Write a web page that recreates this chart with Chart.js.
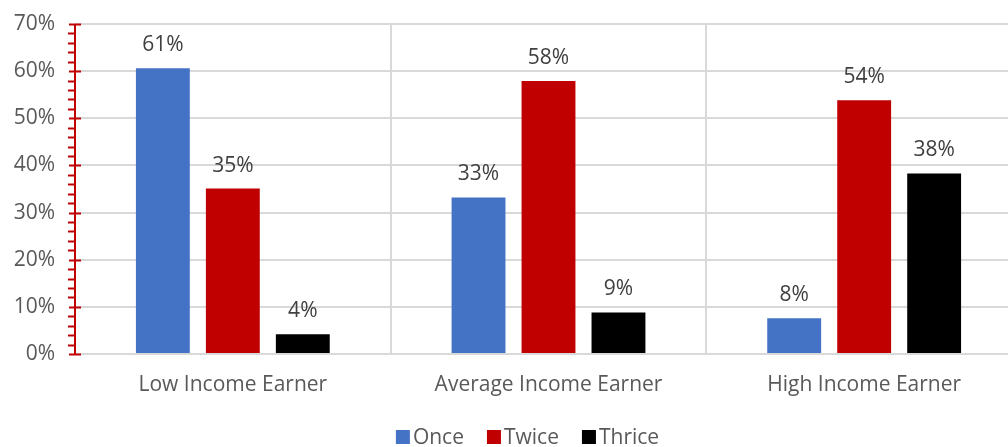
<!DOCTYPE html>
<html>
<head>
<meta charset="utf-8">
<script src="https://cdn.jsdelivr.net/npm/chart.js@4"></script>
<style>
  html, body { margin: 0; padding: 0; background: #fff; overflow: hidden; }
  #wrap { width: 1055px; height: 447px; }
</style>
</head>
<body>
<div id="wrap"><canvas id="myChart"></canvas></div>
<script>
const categories = ['Low Income Earner', 'Average Income Earner', 'High Income Earner'];
const once = [60.6, 33.2, 7.6];
const twice = [35.1, 57.9, 53.8];
const thrice = [4.2, 8.8, 38.3];

const FONT = '"Open Sans", "Liberation Sans", sans-serif';
const FONT_SIZE = 21;

// red value axis with major / minor tick marks
const redAxis = {
    id: 'redAxis',
    afterDraw(chart) {
        const c = chart.ctx;
        const y = chart.scales.y;
        const left = chart.chartArea.left;
        c.save();
        c.strokeStyle = '#c00000';
        c.lineWidth = 2;
        c.beginPath();
        c.moveTo(left, y.getPixelForValue(70));
        c.lineTo(left, y.getPixelForValue(0));
        c.stroke();
        for (let v = 0; v <= 70; v += 2) {
            const py = Math.round(y.getPixelForValue(v)) + 0.5;
            c.beginPath();
            if (v % 10 === 0) {
                c.moveTo(left - 6, py);
                c.lineTo(left + 6, py);
            } else {
                c.moveTo(left - 7, py);
                c.lineTo(left, py);
            }
            c.stroke();
        }
        c.restore();
    }
};

// percent labels above each bar
const barLabels = {
    id: 'barLabels',
    afterDatasetsDraw(chart) {
        const c = chart.ctx;
        c.save();
        c.font = FONT_SIZE + 'px ' + FONT;
        c.fillStyle = '#404040';
        c.textAlign = 'center';
        c.textBaseline = 'middle';
        chart.data.datasets.forEach((ds, i) => {
            chart.getDatasetMeta(i).data.forEach((bar, j) => {
                c.fillText(Math.round(ds.data[j]) + '%', bar.x, bar.y - 23);
            });
        });
        c.restore();
    }
};

// compact legend under the axis labels
const bottomLegend = {
    id: 'bottomLegend',
    afterDraw(chart) {
        const c = chart.ctx;
        const box = 14, gap = 3, itemGap = 23;
        c.save();
        c.font = FONT_SIZE + 'px ' + FONT;
        const items = chart.data.datasets.map(ds => ({
            text: ds.label,
            color: ds.backgroundColor,
            w: box + gap + c.measureText(ds.label).width
        }));
        const total = items.reduce((s, it) => s + it.w, 0) + itemGap * (items.length - 1);
        let x = chart.width / 2 - total / 2;
        const y = chart.height - 10;
        c.textBaseline = 'middle';
        c.textAlign = 'left';
        items.forEach(it => {
            c.fillStyle = it.color;
            c.fillRect(x, y - box / 2, box, box);
            c.fillStyle = '#595959';
            c.fillText(it.text, x + box + gap, y + 1);
            x += it.w + itemGap;
        });
        c.restore();
    }
};

const ctx = document.getElementById('myChart');

const myChart = new Chart(ctx, {
    type: 'bar',
    data: {
        labels: categories,
        datasets: [{
            label: 'Once',
            data: once,
            backgroundColor: '#4472c4'
        }, {
            label: 'Twice',
            data: twice,
            backgroundColor: '#c00000'
        }, {
            label: 'Thrice',
            data: thrice,
            backgroundColor: '#000000'
        }]
    },
    options: {
        responsive: true,
        maintainAspectRatio: false,
        animation: false,
        categoryPercentage: 0.665,
        barPercentage: 0.77,
        layout: {
            padding: { top: 24, left: 0, right: 33, bottom: 0 }
        },
        plugins: {
            tooltip: { enabled: false },
            legend: { display: false }
        },
        scales: {
            x: {
                offset: true,
                grid: { offset: true, color: '#d9d9d9', lineWidth: 2, drawTicks: false },
                border: { display: false },
                ticks: {
                    color: '#595959',
                    font: { family: FONT, size: FONT_SIZE },
                    padding: 18
                },
                afterFit: s => { s.height = 93; }
            },
            y: {
                min: 0,
                max: 70,
                grid: { color: '#d9d9d9', lineWidth: 2, drawTicks: false },
                border: { display: false },
                ticks: {
                    stepSize: 10,
                    color: '#595959',
                    font: { family: FONT, size: FONT_SIZE },
                    padding: 20,
                    callback: v => v + '%'
                },
                afterFit: s => {
                    s.width = 75;
                    s.paddingTop = 0;
                    s.paddingBottom = 0;
                }
            }
        }
    },
    plugins: [redAxis, barLabels, bottomLegend]
});
</script>
</body>
</html>
